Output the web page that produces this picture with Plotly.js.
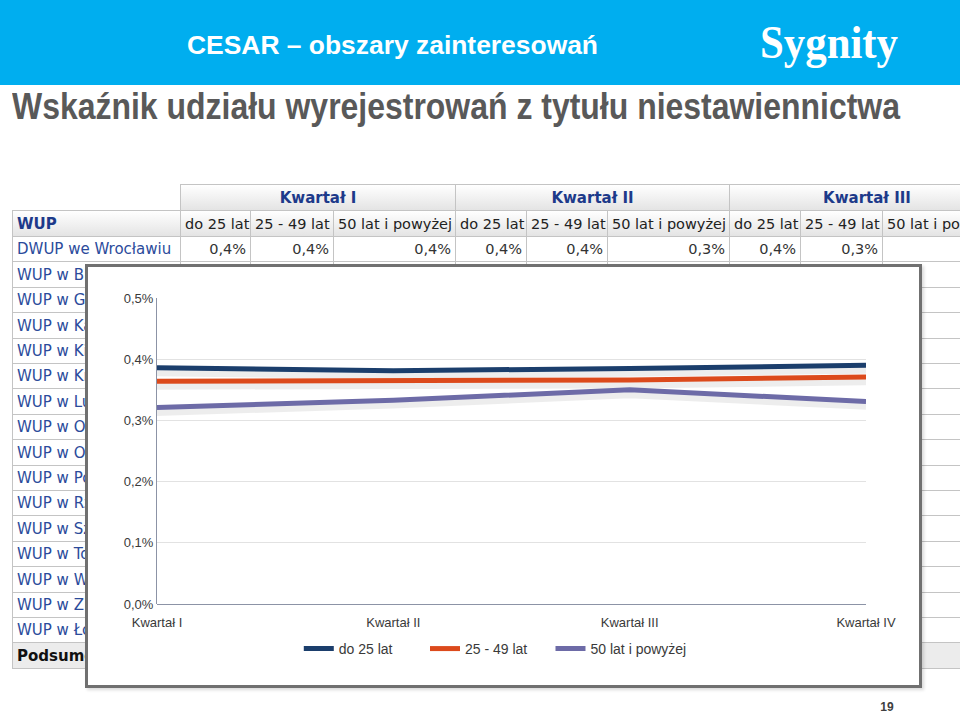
<!DOCTYPE html>
<html>
<head>
<meta charset="utf-8">
<script src="https://cdn.plot.ly/plotly-3.0.1.min.js"></script>
<style>
  html, body { margin:0; padding:0; width:960px; height:714px; overflow:hidden; background:#ffffff; }
  body { position:relative; font-family:"Liberation Sans", Arial, sans-serif; }
  #topbar { position:absolute; left:0; top:0; width:960px; height:85px; background:#00aeef; }
  .fit { position:absolute; white-space:nowrap; transform-origin:0 50%; }
  #hdr { left:187px; top:30px; font-size:26px; color:#ffffff; font-weight:bold; line-height:30px; }
  #logo { left:760px; top:18px; font-size:46px; color:#ffffff; font-family:"Liberation Serif","DejaVu Serif",serif; font-weight:bold; line-height:50px; }
  #sub { left:12px; top:87px; font-size:36px; color:#595959; font-weight:bold; line-height:40px; }
  #tbl { position:absolute; left:0; top:0; }
  .cell { position:absolute; box-sizing:border-box; border:1px solid #c4c4c4; font-family:"DejaVu Sans", Verdana, sans-serif; font-size:14.5px; white-space:nowrap; overflow:hidden; padding:0 4px; display:flex; align-items:center; background:#ffffff; color:#222222; }
  #chartbox { position:absolute; left:85px; top:264px; width:837px; height:424px; box-sizing:border-box; border:3px solid #707070; background:#ffffff; box-shadow:2px 2px 3px rgba(0,0,0,0.15); }
  #chart { width:831px; height:418px; }
  #pnum { position:absolute; left:872px; top:700px; width:30px; text-align:center; font-size:12px; font-weight:bold; color:#404040; }
</style>
</head>
<body>
<div id="topbar"></div>
<div id="hdr" class="fit">CESAR – obszary zainteresowań</div>
<div id="logo" class="fit">Sygnity</div>
<div id="sub" class="fit">Wskaźnik udziału wyrejestrowań z tytułu niestawiennictwa</div>
<div id="tbl"></div>
<div id="chartbox"><div id="chart"></div></div>
<div id="pnum">19</div>
<script>
// ---------- data ----------
var quarters = ['Kwartał I', 'Kwartał II', 'Kwartał III', 'Kwartał IV'];
var seriesNames = ['do 25 lat', '25 - 49 lat', '50 lat i powyżej'];
var do25 = [0.00386, 0.00381, 0.00385, 0.00390];
var age25to49 = [0.00364, 0.00366, 0.00366, 0.00371];
var age50plus = [0.00321, 0.00333, 0.00350, 0.00331];
var seriesColors = ['#1b3e6c', '#dc4a1c', '#6d6ba7'];
var yTicks = [0, 0.001, 0.002, 0.003, 0.004, 0.005];

// table behind the chart
var tableGroups = ['Kwartał I', 'Kwartał II', 'Kwartał III'];
var tableSubCols = ['do 25 lat', '25 - 49 lat', '50 lat i powyżej'];
var tableRowNames = ['DWUP we Wrocławiu', 'WUP w Białymstoku', 'WUP w Gdańsku', 'WUP w Katowicach', 'WUP w Kielcach',
  'WUP w Krakowie', 'WUP w Lublinie', 'WUP w Olsztynie', 'WUP w Opolu', 'WUP w Poznaniu', 'WUP w Rzeszowie',
  'WUP w Szczecinie', 'WUP w Toruniu', 'WUP w Warszawie', 'WUP w Zielonej Górze', 'WUP w Łodzi', 'Podsumowanie'];
var dwupValues = ['0,4%', '0,4%', '0,4%', '0,4%', '0,4%', '0,3%', '0,4%', '0,3%', '0,3%'];

// ---------- fit header text ----------
function fitWidth(id, w) {
  var el = document.getElementById(id);
  var cur = el.getBoundingClientRect().width;
  el.style.transform = 'scaleX(' + (w / cur) + ')';
}
fitWidth('hdr', 411);
fitWidth('logo', 138);
fitWidth('sub', 888);

// ---------- table ----------
(function () {
  var colEdges = [12, 180, 250, 333, 455, 526, 607, 729, 800, 882, 1004];
  var tbl = document.getElementById('tbl');
  function cell(x0, x1, y0, y1, text, style) {
    var d = document.createElement('div');
    d.className = 'cell';
    d.style.left = x0 + 'px'; d.style.top = y0 + 'px';
    d.style.width = (x1 - x0 + 1) + 'px'; d.style.height = (y1 - y0 + 1) + 'px';
    d.textContent = text;
    for (var k in style) d.style[k] = style[k];
    tbl.appendChild(d);
  }
  var hdrBg = 'linear-gradient(#ffffff, #e4e4e4)';
  for (var g = 0; g < tableGroups.length; g++) {
    cell(colEdges[1 + g * 3], colEdges[4 + g * 3], 184, 210, tableGroups[g],
      {background: hdrBg, fontWeight: 'bold', color: '#1d3a8a', justifyContent: 'center', fontSize: '15px'});
  }
  cell(colEdges[0], colEdges[1], 210, 236, 'WUP', {background: hdrBg, fontWeight: 'bold', color: '#1d3a8a', fontSize: '15px'});
  for (var c = 0; c < 9; c++) {
    cell(colEdges[1 + c], colEdges[2 + c], 210, 236, tableSubCols[c % 3], {background: hdrBg, color: '#222222'});
  }
  var rh = 25.4;
  for (var r = 0; r < tableRowNames.length; r++) {
    var y0 = Math.round(236 + r * rh), y1 = Math.round(236 + (r + 1) * rh);
    var last = r === tableRowNames.length - 1;
    cell(colEdges[0], colEdges[1], y0, y1, tableRowNames[r],
      last ? {background: '#ececec', fontWeight: 'bold', color: '#111111', fontSize: '15px'} : {color: '#2b4b9b', fontSize: '15px'});
    for (var c2 = 0; c2 < 9; c2++) {
      var txt = r === 0 ? dwupValues[c2] : '';
      cell(colEdges[1 + c2], colEdges[2 + c2], y0, y1, txt,
        {justifyContent: 'flex-end', color: '#333333', background: last ? '#ececec' : '#ffffff'});
    }
  }
})();

// ---------- chart ----------
var allSeries = [do25, age25to49, age50plus];
var legendIds = ['legend', 'legend2', 'legend3'];
var traces = [];
// soft shadows under the lines
allSeries.forEach(function (s) {
  traces.push({
    x: quarters, y: s.map(function (v) { return v - 0.00008; }),
    type: 'scatter', mode: 'lines', showlegend: false, hoverinfo: 'skip',
    line: {color: 'rgba(0,0,0,0.07)', width: 7}
  });
});
allSeries.forEach(function (s, i) {
  traces.push({
    x: quarters, y: s, name: seriesNames[i], legend: legendIds[i],
    type: 'scatter', mode: 'lines',
    line: {color: seriesColors[i], width: 5}
  });
});

var fam = '"Liberation Sans", Arial, sans-serif';
function legendAt(x) {
  return {
    orientation: 'h', x: x, xanchor: 'left', y: -0.147, yanchor: 'middle',
    font: {family: fam, size: 14, color: '#3a3a3a'}, itemwidth: 30,
    bgcolor: 'rgba(0,0,0,0)'
  };
}
var layout = {
  width: 831, height: 418,
  margin: {l: 69, r: 53, t: 31, b: 81},
  paper_bgcolor: '#ffffff', plot_bgcolor: '#ffffff',
  separators: ', ',
  showlegend: true,
  xaxis: {
    type: 'category', range: [0, 3], showgrid: false, zeroline: false,
    showline: false, ticks: '', ticklabelstandoff: 9,
    tickfont: {family: fam, size: 13, color: '#3a3a3a'}, fixedrange: true
  },
  yaxis: {
    range: [0, 0.005], tickvals: yTicks, tickformat: '.1%',
    showgrid: true, gridcolor: '#e2e2e2', gridwidth: 1,
    zeroline: true, zerolinecolor: '#8c93a6', zerolinewidth: 1,
    showline: true, linecolor: '#8c93a6', linewidth: 1,
    ticks: '', tickfont: {family: fam, size: 13, color: '#3a3a3a'}, fixedrange: true
  },
  legend: legendAt(0.2),
  legend2: legendAt(0.378),
  legend3: legendAt(0.555)
};
Plotly.newPlot('chart', traces, layout, {staticPlot: true, displayModeBar: false});
</script>
</body>
</html>
